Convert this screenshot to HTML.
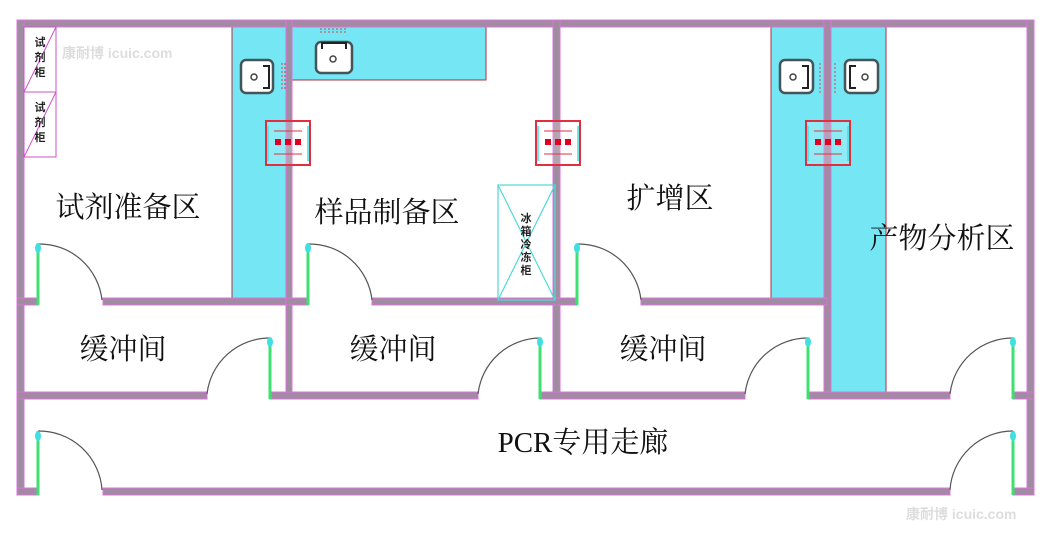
<!DOCTYPE html>
<html><head><meta charset="utf-8"><style>
html,body{margin:0;padding:0;background:#fff;}
svg{display:block;}
text{font-family:"Liberation Sans","Noto Sans CJK SC",sans-serif;}
.w{fill:#a08ca0;stroke:#e070e0;stroke-width:1;}
.cy{fill:#74e6f4;stroke:#b03040;stroke-width:1;}
.dl{stroke:#3ee070;stroke-width:3;}
.arc{fill:none;stroke:#555;stroke-width:1.2;}
.lb{font-size:29px;fill:#111;font-family:"Liberation Serif","Noto Serif CJK SC",serif;}
.sk{fill:#fff;stroke:#44555a;stroke-width:2.5;}
</style></head><body>
<svg width="1060" height="549" viewBox="0 0 1060 549" xmlns="http://www.w3.org/2000/svg">
<defs>
<g id="pb">
<rect x="0" y="0" width="44" height="44" fill="#fff" fill-opacity="0.2" stroke="#e03040" stroke-width="2"/>
<line x1="2" y1="5" x2="2" y2="40" stroke="#40e0e0" stroke-width="1.5"/>
<line x1="42" y1="5" x2="42" y2="40" stroke="#40e0e0" stroke-width="1.5"/>
<line x1="8" y1="10" x2="36" y2="10" stroke="#e03040" stroke-width="1"/>
<line x1="8" y1="33" x2="36" y2="33" stroke="#e03040" stroke-width="1"/>
<rect x="9" y="18" width="6" height="6" fill="#e00020"/>
<rect x="19" y="18" width="6" height="6" fill="#e00020"/>
<rect x="29" y="18" width="6" height="6" fill="#e00020"/>
</g>
</defs>
<rect class="cy" x="232" y="27" width="54" height="271"/>
<rect class="cy" x="292" y="27" width="194" height="53"/>
<rect class="cy" x="771" y="27" width="53" height="271"/>
<rect class="cy" x="831" y="27" width="55" height="365"/>
<rect class="w" x="17" y="20" width="1017" height="7"/>
<rect class="w" x="17" y="20" width="7" height="475"/>
<rect class="w" x="1027" y="20" width="7" height="475"/>
<rect class="w" x="17" y="488" width="21" height="7"/>
<rect class="w" x="103" y="488" width="847" height="7"/>
<rect class="w" x="1013" y="488" width="21" height="7"/>
<rect class="w" x="286" y="20" width="6" height="378"/>
<rect class="w" x="553" y="20" width="7" height="378"/>
<rect class="w" x="824" y="20" width="7" height="378"/>
<rect class="w" x="17" y="298" width="21" height="7"/>
<rect class="w" x="103" y="298" width="189" height="7"/>
<rect class="w" x="286" y="298" width="22" height="7"/>
<rect class="w" x="372" y="298" width="205" height="7"/>
<rect class="w" x="641" y="298" width="186" height="7"/>
<rect class="w" x="17" y="392" width="190" height="7"/>
<rect class="w" x="270" y="392" width="208" height="7"/>
<rect class="w" x="540" y="392" width="205" height="7"/>
<rect class="w" x="808" y="392" width="142" height="7"/>
<rect class="w" x="1013" y="392" width="21" height="7"/>
<g>
<line class="dl" x1="38" y1="244" x2="38" y2="305"/><path class="arc" d="M38,244 A63 63 0 0 1 102,300"/>
<line class="dl" x1="308" y1="244" x2="308" y2="305"/><path class="arc" d="M308,244 A63 63 0 0 1 372,300"/>
<line class="dl" x1="577" y1="244" x2="577" y2="305"/><path class="arc" d="M577,244 A63 63 0 0 1 641,300"/>
<line class="dl" x1="270" y1="338" x2="270" y2="399"/><path class="arc" d="M270,338 A63 63 0 0 0 207,394"/>
<line class="dl" x1="540" y1="338" x2="540" y2="399"/><path class="arc" d="M540,338 A63 63 0 0 0 478,394"/>
<line class="dl" x1="808" y1="338" x2="808" y2="399"/><path class="arc" d="M808,338 A63 63 0 0 0 745,394"/>
<line class="dl" x1="1013" y1="338" x2="1013" y2="399"/><path class="arc" d="M1013,338 A63 63 0 0 0 950,394"/>
<line class="dl" x1="38" y1="431" x2="38" y2="495"/><path class="arc" d="M38,431 A63 63 0 0 1 102,490"/>
<line class="dl" x1="1013" y1="431" x2="1013" y2="495"/><path class="arc" d="M1013,431 A63 63 0 0 0 950,490"/>
</g>
<g fill="#40e0e0"><ellipse cx="38" cy="248" rx="3" ry="5"/><ellipse cx="308" cy="248" rx="3" ry="5"/><ellipse cx="577" cy="248" rx="3" ry="5"/><ellipse cx="270" cy="342" rx="3" ry="5"/><ellipse cx="540" cy="342" rx="3" ry="5"/><ellipse cx="808" cy="342" rx="3" ry="5"/><ellipse cx="1013" cy="342" rx="3" ry="5"/><ellipse cx="38" cy="436" rx="3" ry="5"/><ellipse cx="1013" cy="436" rx="3" ry="5"/></g>
<g stroke="#d050d0" stroke-width="1" fill="none">
<rect x="24" y="27" width="32" height="65"/><line x1="24" y1="92" x2="56" y2="27"/>
<rect x="24" y="92" width="32" height="65"/><line x1="24" y1="157" x2="56" y2="92"/>
</g>
<g font-size="11" font-weight="bold" fill="#222" text-anchor="middle">
<text x="40" y="46">试</text><text x="40" y="61">剂</text><text x="40" y="76">柜</text>
<text x="40" y="111">试</text><text x="40" y="126">剂</text><text x="40" y="141">柜</text>
</g>
<rect class="sk" x="241" y="60" width="32" height="33" rx="5"/><circle cx="254" cy="77" r="3" fill="none" stroke="#444" stroke-width="1.5"/><path d="M263,66 h6 v22 h-6" fill="none" stroke="#222" stroke-width="2"/>
<rect class="sk" x="316" y="42" width="36" height="31" rx="5"/><circle cx="333" cy="59" r="3" fill="none" stroke="#444" stroke-width="1.5"/><path d="M322,49 v-6 h24 v6" fill="none" stroke="#222" stroke-width="2"/>
<rect class="sk" x="780" y="60" width="33" height="33" rx="5"/><circle cx="793" cy="77" r="3" fill="none" stroke="#444" stroke-width="1.5"/><path d="M802,66 h6 v22 h-6" fill="none" stroke="#222" stroke-width="2"/>
<rect class="sk" x="845" y="60" width="33" height="33" rx="5"/><circle cx="865" cy="77" r="3" fill="none" stroke="#444" stroke-width="1.5"/><path d="M856,66 h-6 v22 h6" fill="none" stroke="#222" stroke-width="2"/>
<g stroke="#e04050" stroke-width="1" stroke-dasharray="2 2">
<line x1="282" y1="63" x2="282" y2="90"/><line x1="285" y1="63" x2="285" y2="90"/>
<line x1="320" y1="29" x2="348" y2="29"/><line x1="320" y1="32" x2="348" y2="32"/>
<line x1="820" y1="63" x2="820" y2="93"/><line x1="835" y1="63" x2="835" y2="93"/>
</g>
<use href="#pb" x="266" y="121"/>
<use href="#pb" x="536" y="121"/>
<use href="#pb" x="806" y="121"/>
<g stroke="#50d8d8" stroke-width="1.2" fill="none">
<rect x="498" y="185" width="57" height="115"/><line x1="498" y1="185" x2="555" y2="300"/><line x1="555" y1="185" x2="498" y2="300"/>
</g>
<g font-size="11" font-weight="bold" fill="#222" text-anchor="middle">
<text x="526" y="222">冰</text><text x="526" y="235">箱</text><text x="526" y="248">冷</text><text x="526" y="261">冻</text><text x="526" y="274">柜</text>
</g>
<text class="lb" x="128" y="217" text-anchor="middle">试剂准备区</text>
<text class="lb" x="387" y="222" text-anchor="middle">样品制备区</text>
<text class="lb" x="670" y="208" text-anchor="middle">扩增区</text>
<text class="lb" x="942" y="248" text-anchor="middle">产物分析区</text>
<text class="lb" x="123" y="359" text-anchor="middle">缓冲间</text>
<text class="lb" x="393" y="359" text-anchor="middle">缓冲间</text>
<text class="lb" x="663" y="359" text-anchor="middle">缓冲间</text>
<text class="lb" x="583" y="452" text-anchor="middle">PCR专用走廊</text>
<text x="62" y="58" font-size="14" fill="#ddd" font-weight="bold">康耐博 icuic.com</text>
<text x="906" y="519" font-size="14" fill="#ddd" font-weight="bold">康耐博 icuic.com</text>
</svg>
</body></html>
